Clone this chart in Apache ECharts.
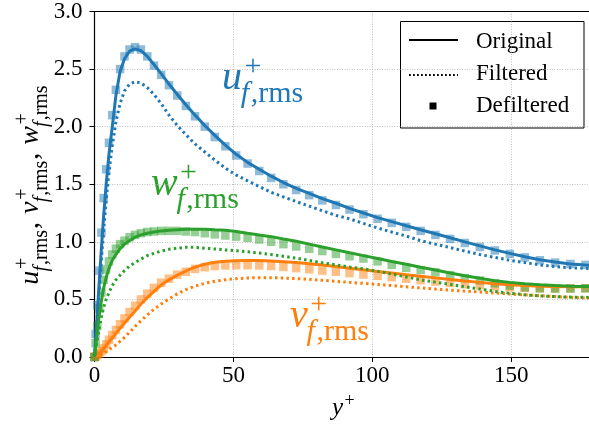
<!DOCTYPE html>
<html><head><meta charset="utf-8">
<script src="https://cdn.jsdelivr.net/npm/echarts@6/dist/echarts.min.js"></script>
<style>html,body{margin:0;padding:0;background:#fff}#c{width:589px;height:427px}</style>
</head><body><div id="c"></div><script>
// ---- data ----
const yPlus = [0, 0.4, 1.0, 1.7, 2.5, 3.3, 4.2, 5.2, 6.4, 7.7, 9.2, 10.8, 12.6, 14.6, 16.7, 19.0, 21.4, 24.0, 26.8, 29.8, 32.9, 36.2, 39.7, 43.3, 47.1, 51.0, 55.1, 59.3, 63.6, 68.0, 72.6, 77.3, 82.0, 86.9, 91.8, 96.8, 101.9, 107.0, 112.2, 117.4, 122.7, 128.0, 133.3, 138.7, 144.1, 149.5, 154.9, 160.3, 165.8, 171.3, 176.7, 180.0];

const uOriginal = [0, 0.15, 0.38, 0.65, 0.95, 1.23, 1.5, 1.76, 2.0, 2.27, 2.48, 2.59, 2.655, 2.675, 2.66, 2.61, 2.54, 2.46, 2.37, 2.28, 2.19, 2.1, 2.01, 1.925, 1.84, 1.76, 1.69, 1.63, 1.57, 1.515, 1.465, 1.42, 1.375, 1.335, 1.29, 1.25, 1.21, 1.175, 1.14, 1.105, 1.07, 1.035, 1.0, 0.965, 0.93, 0.9, 0.87, 0.845, 0.825, 0.808, 0.798, 0.795];
const uFiltered = [0, 0.13, 0.34, 0.58, 0.85, 1.1, 1.36, 1.6, 1.84, 2.04, 2.2, 2.31, 2.37, 2.39, 2.38, 2.34, 2.28, 2.2, 2.1, 2.01, 1.93, 1.85, 1.78, 1.71, 1.64, 1.58, 1.53, 1.48, 1.43, 1.39, 1.35, 1.31, 1.27, 1.23, 1.2, 1.16, 1.12, 1.085, 1.05, 1.01, 0.98, 0.95, 0.92, 0.89, 0.865, 0.84, 0.82, 0.8, 0.785, 0.775, 0.77, 0.768];
const uDefiltered = [0, 0.2, 0.45, 0.75, 1.08, 1.38, 1.63, 1.86, 2.1, 2.32, 2.5, 2.61, 2.67, 2.69, 2.67, 2.61, 2.53, 2.45, 2.36, 2.27, 2.18, 2.09, 2.0, 1.91, 1.83, 1.75, 1.68, 1.615, 1.555, 1.5, 1.45, 1.405, 1.36, 1.32, 1.28, 1.24, 1.2, 1.165, 1.13, 1.095, 1.06, 1.025, 0.99, 0.955, 0.925, 0.895, 0.865, 0.84, 0.82, 0.808, 0.8, 0.798];

const vOriginal = [0, 0.003, 0.01, 0.025, 0.045, 0.07, 0.1, 0.13, 0.165, 0.205, 0.25, 0.295, 0.345, 0.4, 0.46, 0.515, 0.57, 0.625, 0.67, 0.71, 0.747, 0.78, 0.805, 0.823, 0.832, 0.836, 0.838, 0.838, 0.834, 0.828, 0.82, 0.81, 0.798, 0.785, 0.771, 0.757, 0.743, 0.729, 0.715, 0.701, 0.687, 0.673, 0.66, 0.648, 0.636, 0.627, 0.62, 0.615, 0.612, 0.611, 0.61, 0.61];
const vFiltered = [0, 0.001, 0.004, 0.01, 0.018, 0.03, 0.045, 0.063, 0.083, 0.105, 0.135, 0.17, 0.215, 0.265, 0.315, 0.365, 0.415, 0.46, 0.505, 0.548, 0.585, 0.615, 0.64, 0.658, 0.671, 0.68, 0.686, 0.689, 0.689, 0.686, 0.681, 0.674, 0.666, 0.657, 0.648, 0.639, 0.63, 0.62, 0.61, 0.6, 0.59, 0.58, 0.572, 0.564, 0.556, 0.548, 0.54, 0.532, 0.525, 0.518, 0.513, 0.511];
const vDefiltered = [0, 0.005, 0.015, 0.03, 0.05, 0.075, 0.11, 0.15, 0.19, 0.235, 0.285, 0.335, 0.39, 0.445, 0.5, 0.55, 0.6, 0.645, 0.68, 0.715, 0.74, 0.765, 0.78, 0.79, 0.795, 0.797, 0.797, 0.795, 0.79, 0.782, 0.772, 0.762, 0.75, 0.74, 0.728, 0.716, 0.705, 0.693, 0.68, 0.667, 0.655, 0.643, 0.632, 0.622, 0.613, 0.605, 0.6, 0.597, 0.596, 0.596, 0.597, 0.597];

const wOriginal = [0, 0.09, 0.22, 0.36, 0.49, 0.6, 0.69, 0.77, 0.84, 0.89, 0.94, 0.98, 1.01, 1.04, 1.06, 1.075, 1.085, 1.095, 1.1, 1.105, 1.11, 1.11, 1.11, 1.105, 1.1, 1.09, 1.075, 1.06, 1.045, 1.025, 1.005, 0.98, 0.955, 0.93, 0.905, 0.88, 0.855, 0.83, 0.805, 0.78, 0.755, 0.73, 0.705, 0.683, 0.663, 0.648, 0.636, 0.627, 0.62, 0.615, 0.612, 0.611];
const wFiltered = [0, 0.06, 0.15, 0.25, 0.35, 0.43, 0.5, 0.56, 0.62, 0.67, 0.71, 0.75, 0.79, 0.82, 0.85, 0.88, 0.9, 0.92, 0.935, 0.945, 0.952, 0.952, 0.945, 0.938, 0.93, 0.922, 0.913, 0.903, 0.89, 0.875, 0.858, 0.838, 0.818, 0.8, 0.782, 0.765, 0.745, 0.72, 0.695, 0.67, 0.65, 0.63, 0.61, 0.59, 0.57, 0.553, 0.54, 0.53, 0.524, 0.52, 0.518, 0.517];
const wDefiltered = [0, 0.12, 0.27, 0.42, 0.56, 0.67, 0.76, 0.83, 0.89, 0.94, 0.98, 1.01, 1.04, 1.06, 1.075, 1.085, 1.09, 1.095, 1.095, 1.095, 1.09, 1.085, 1.075, 1.065, 1.055, 1.045, 1.035, 1.02, 1.0, 0.98, 0.96, 0.94, 0.92, 0.895, 0.875, 0.855, 0.83, 0.8, 0.775, 0.755, 0.735, 0.71, 0.685, 0.665, 0.64, 0.62, 0.605, 0.597, 0.594, 0.595, 0.597, 0.597];

const xTicks = [0, 50, 100, 150];
const yTicks = [0.0, 0.5, 1.0, 1.5, 2.0, 2.5, 3.0];
const legendNames = ['Original', 'Filtered', 'Defiltered'];

// ---- styling ----
const BLUE = '#1f77b4', ORANGE = '#ff7f0e', GREEN = '#2ca02c';
const SERIF = '"Liberation Serif", "DejaVu Serif", serif';
const mctx = document.createElement('canvas').getContext('2d');
function tw(t, font) { mctx.font = font; return mctx.measureText(t).width; }
function fnt(size, italic) { return (italic ? 'italic ' : '') + size + 'px ' + SERIF; }
function txt(x, y, t, font, fill) {
  return { type: 'text', x: x, y: y, silent: true,
    style: { text: t, font: font, fill: fill, textAlign: 'left', textVerticalAlign: 'middle', align: 'left', verticalAlign: 'middle' } };
}
const MID = 0.33;
function scriptSym(ch, x0, base, fs, fs2, fill, withScripts) {
  const fb = fnt(fs, true);
  const wb = tw(base, fb);
  ch.push(txt(x0, -MID * fs, base, fb, fill));
  let end = x0 + wb;
  const fp = fnt(fs2, false);
  const xs = x0 + wb + 0.06 * fs;
  ch.push(txt(xs, -0.62 * fs, '+', fp, fill));
  end = Math.max(end, xs + tw('+', fp));
  if (withScripts === true) {
    const xsub = x0 + wb - 0.03 * fs;
    const ff = fnt(fs2, true);
    const ys = 0.3 * fs - MID * fs2;
    ch.push(txt(xsub, ys, 'f', ff, fill));
    const xr = xsub + tw('f', ff) + 0.05 * fs2;
    ch.push(txt(xr, ys, ',rms', fp, fill));
    end = Math.max(end, xr + tw(',rms', fp));
  }
  return end;
}
function label(x, y, base, fs, fs2, fill, mode) {
  const ch = [];
  scriptSym(ch, 0, base, fs, fs2, fill, mode);
  return { type: 'group', x: x, y: y, z: 50, children: ch };
}
function yTitle() {
  const ch = [];
  const fs = 28, fs2 = 20;
  let x = 0;
  const parts = ['u', 'v', 'w'];
  parts.forEach((p, i) => {
    x = scriptSym(ch, x, p, fs, fs2, '#000', true);
    if (i < parts.length - 1) {
      const fc = fnt(fs, false);
      ch.push(txt(x + 1, -MID * fs, ',', fc, '#000'));
      x += tw(', ', fc) + 2;
    }
  });
  const total = x;
  return { type: 'group', x: 40, y: 185 + total / 2, rotation: Math.PI / 2, z: 50, children: ch };
}

function pairs(ys) { return yPlus.map((x, i) => [x, ys[i]]); }
function lineSeries(name, ys, color, dotted) {
  return { type: 'line', name: name, data: pairs(ys), showSymbol: false, symbol: 'none', smooth: false, z: 3, silent: true,
    lineStyle: { color: color, width: 3, type: dotted ? [2.5, 3.2] : 'solid', cap: 'butt' }, emphasis: { disabled: true } };
}
function sqSeries(name, ys, color) {
  return { type: 'scatter', name: name, data: pairs(ys), symbol: 'rect', symbolSize: 8.5, z: 2, silent: true,
    itemStyle: { color: color, opacity: 0.5 }, emphasis: { disabled: true } };
}

const chart = echarts.init(document.getElementById('c'), null, { renderer: 'canvas' });
const axisFont = { color: '#000', fontFamily: SERIF, fontSize: 23 };
const gridLine = { show: true, lineStyle: { color: '#b0b0b0', width: 0.8, type: [1, 1.5] } };
const option = {
  animation: false,
  backgroundColor: '#fff',
  grid: { left: 94.5, top: 10, right: -1.4, bottom: 70 },
  xAxis: [{ type: 'value', min: 0, max: 178, interval: 50,
    axisLine: { lineStyle: { color: '#000', width: 1.2 } },
    axisTick: { length: 5, lineStyle: { color: '#000', width: 1 } },
    axisLabel: Object.assign({ margin: 7, showMaxLabel: false, formatter: v => xTicks.includes(v) ? String(v) : '' }, axisFont),
    splitLine: gridLine },
    { type: 'value', position: 'top', min: 0, max: 178, interval: 50,
    axisLine: { show: true, onZero: false, lineStyle: { color: '#000', width: 1.2 } },
    axisTick: { show: false }, axisLabel: { show: false }, splitLine: { show: false } }],
  yAxis: { type: 'value', min: 0, max: 3, interval: 0.5,
    axisLine: { lineStyle: { color: '#000', width: 1.2 } },
    axisTick: { length: 5, lineStyle: { color: '#000', width: 1 } },
    axisLabel: Object.assign({ margin: 12, formatter: v => yTicks.includes(v) ? v.toFixed(1) : '' }, axisFont),
    splitLine: gridLine },
  series: [
    sqSeries('u Defiltered', uDefiltered, BLUE),
    sqSeries('v Defiltered', vDefiltered, ORANGE),
    sqSeries('w Defiltered', wDefiltered, GREEN),
    lineSeries('u Original', uOriginal, BLUE, false),
    lineSeries('u Filtered', uFiltered, BLUE, true),
    lineSeries('v Original', vOriginal, ORANGE, false),
    lineSeries('v Filtered', vFiltered, ORANGE, true),
    lineSeries('w Original', wOriginal, GREEN, false),
    lineSeries('w Filtered', wFiltered, GREEN, true)
  ],
  graphic: [
    label(222, 92, 'u', 40, 30, BLUE, true),
    label(151, 198, 'w', 40, 30, GREEN, true),
    label(290, 330, 'v', 40, 30, ORANGE, true),
    label(332, 417, 'y', 25, 18, '#000', 'sup'),
    yTitle(),
    { type: 'group', z: 100, children: [
      { type: 'rect', shape: { x: 400.5, y: 21.5, width: 183.5, height: 106.5 }, style: { fill: '#fff', stroke: '#000', lineWidth: 1 } },
      { type: 'line', shape: { x1: 409, y1: 40, x2: 458, y2: 40 }, style: { stroke: '#000', lineWidth: 2 } },
      { type: 'line', shape: { x1: 409, y1: 75, x2: 458, y2: 75 }, style: { stroke: '#000', lineWidth: 2, lineDash: [1.8, 2.2] } },
      { type: 'rect', shape: { x: 429.5, y: 102.5, width: 7, height: 7 }, style: { fill: '#000' } },
      txt(476, 41.5, legendNames[0], fnt(23, false), '#000'),
      txt(476, 73.5, legendNames[1], fnt(23, false), '#000'),
      txt(476, 105.5, legendNames[2], fnt(23, false), '#000')
    ] }
  ]
};
chart.setOption(option);
</script></body></html>
